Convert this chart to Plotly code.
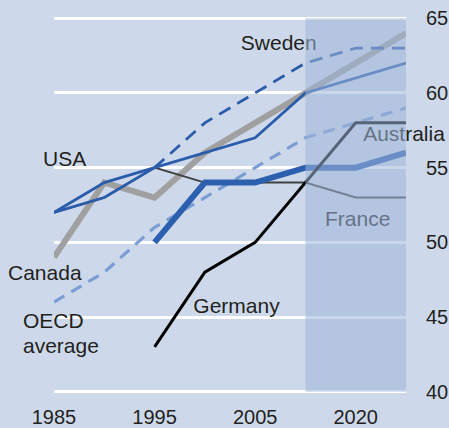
import plotly.graph_objects as go

# ---- data ----
periods = ["1985", "1990", "1995", "2000", "2005", "2010", "2020", "2030"]
tick_labels = ["1985", "1995", "2005", "2020"]
tick_values = [40, 45, 50, 55, 60, 65]

canada = [49, 54, 53, 56, 58, 60, 62, 64]
usa = [52, 54, 55, 56, 57, 60, 61, 62]
sweden = [52, 53, 55, 58, 60, 62, 63, 63]
oecd_avg = [46, 48, 51, 53, 55, 57, 58, 59]
france = [52, 53, 55, 54, 54, 54, 53, 53]
australia = [None, None, 50, 54, 54, 55, 55, 56]
germany = [None, None, 43, 48, 50, 54, 58, 58]

x = list(range(len(periods)))
tickx = [periods.index(t) for t in tick_labels]

BG = "#cdd9ea"
TXT = "#231f20"
FONT = "Liberation Sans, Arial, sans-serif"
LBL = 21

fig = go.Figure()

def add_line(xs, ys, color, width, dash="solid"):
    fig.add_trace(go.Scatter(x=xs, y=ys, mode="lines",
                             line=dict(color=color, width=width, dash=dash),
                             connectgaps=False, cliponaxis=False,
                             hoverinfo="skip", showlegend=False))

add_line(x, canada, "#a0a0a0", 6)
add_line(x, oecd_avg, "#7b9dd4", 3.2, "12px,8px")
add_line(x, france, "#404040", 2)
add_line(x[:3], sweden[:3], "#2a5cab", 2.8)
add_line(x[2:], sweden[2:], "#2a5cab", 2.8, "13px,8px")
add_line(x, usa, "#2a5cab", 2.8)
add_line(x, australia, "#2c5fae", 6)
add_line(x, germany, "#000000", 3)

# labels inside the plotted x range: text traces (so the shaded band covers them)
inner_labels = [
    ("Sweden", 4.47, 63.2),
    ("USA", 0.21, 55.45),
    ("Germany", 3.63, 45.6),
    ("France", 6.04, 51.42),
    ("Australia", 6.96, 57.12),
]
for txt, lx, ly in inner_labels:
    fig.add_trace(go.Scatter(x=[lx], y=[ly], mode="text", text=[txt],
                             textposition="middle center", cliponaxis=False,
                             textfont=dict(size=LBL, color=TXT, family=FONT),
                             hoverinfo="skip", showlegend=False))

# labels left of the plot area: annotations placed in paper coordinates
outer_labels = [
    ("Canada", -0.026, 47.95, "center"),
    ("OECD", -0.094, 44.8, "left"),
    ("average", -0.094, 43.1, "left"),
]
for txt, px, ly, anc in outer_labels:
    fig.add_annotation(x=px, y=ly, xref="paper", yref="y", text=txt,
                       showarrow=False, xanchor=anc, yanchor="middle",
                       font=dict(size=LBL, color=TXT, family=FONT))

# projection band
fig.add_shape(type="rect", xref="x", yref="y", x0=5, x1=7, y0=40, y1=65,
              layer="above", line=dict(width=0),
              fillcolor="rgba(158,180,216,0.55)")

fig.update_layout(
    width=449, height=428,
    margin=dict(l=54, r=43, t=16, b=34, autoexpand=False),
    paper_bgcolor=BG, plot_bgcolor=BG,
    font=dict(family=FONT, size=20, color=TXT),
    showlegend=False,
    xaxis=dict(range=[0, 7], tickvals=tickx, ticktext=tick_labels,
               showgrid=False, zeroline=False, showline=False, ticks="",
               automargin=False,
               ticklabelstandoff=9, tickfont=dict(size=20, color=TXT)),
    yaxis=dict(range=[39.85, 65.15], side="right", tickvals=tick_values,
               showgrid=True, gridcolor="white", gridwidth=3,
               zeroline=False, showline=False, ticks="", automargin=False,
               ticklabelstandoff=19, tickfont=dict(size=20, color=TXT)),
)

fig.write_html("out.html",
               config={"displayModeBar": False},
               post_script="document.body.style.margin='0';"
                           "document.body.style.overflow='hidden';")
